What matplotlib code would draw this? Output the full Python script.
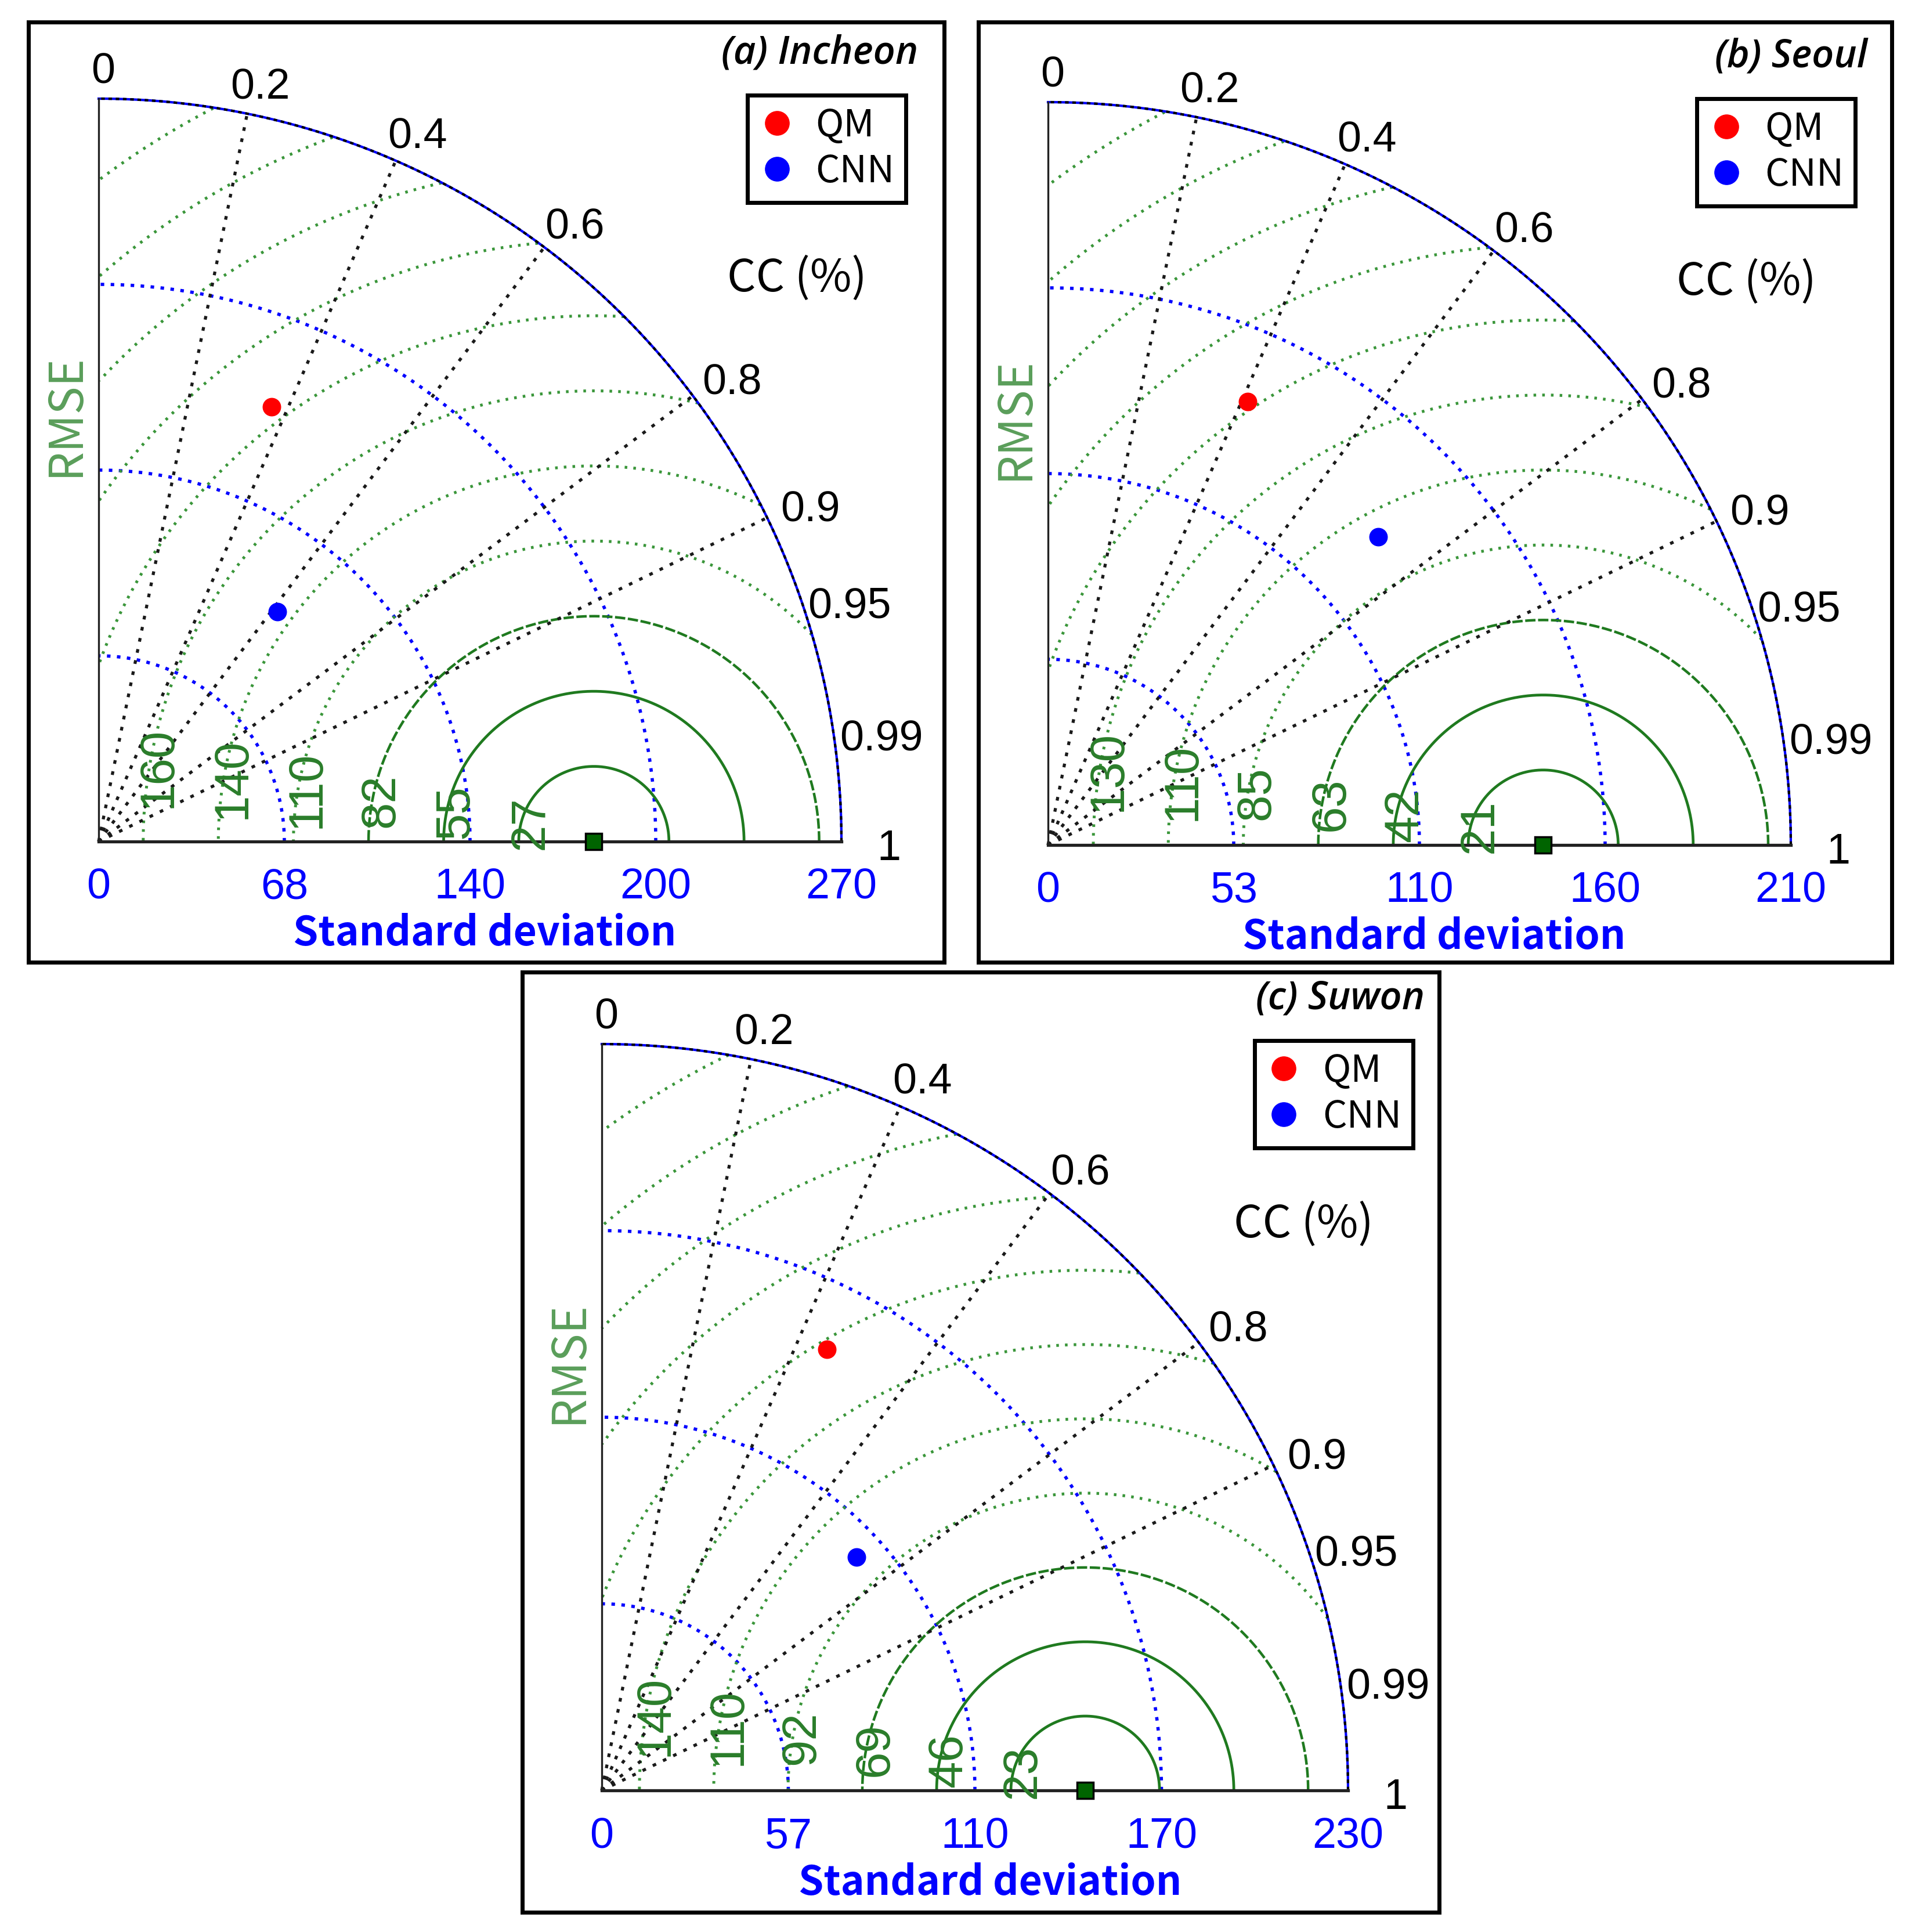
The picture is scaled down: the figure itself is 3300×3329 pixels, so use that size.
import numpy as np
import matplotlib.pyplot as plt

# ---- data ----
titles = ['(a) Incheon', '(b) Seoul', '(c) Suwon']
std_max = [270, 210, 230]
std_ticklabels = [['0', '68', '140', '200', '270'],
                  ['0', '53', '110', '160', '210'],
                  ['0', '57', '110', '170', '230']]
ref_std = [180, 140, 149]
rmse_step = [27.3, 21.2, 22.9]
rmse_labels = [['27', '55', '82', '110', '140', '160'],
               ['21', '42', '63', '85', '110', '130'],
               ['23', '46', '69', '92', '110', '140']]
qm_std = [170.1, 137.5, 152.7]
qm_cc = [0.370, 0.410, 0.455]
cnn_std = [105.8, 127.6, 106.5]
cnn_cc = [0.615, 0.731, 0.737]
cc_lines = [0.2, 0.4, 0.6, 0.8, 0.9]
cc_ticks = [0, 0.2, 0.4, 0.6, 0.8, 0.9, 0.95, 0.99, 1]
cc_ticklabels = ['0', '0.2', '0.4', '0.6', '0.8', '0.9', '0.95', '0.99', '1']

W, H, DPI = 3300, 3329, 100
# panel frame boxes and (origin x, origin y, radius) in pixels
frames = [(49, 38, 1627, 1658), (1686, 38, 3260, 1658), (900, 1675, 2480, 3295)]
origins = [(170, 1450, 1280), (1806, 1456, 1280), (1037, 3085, 1286)]

BLUE = '#0000ff'
GREEN_D = '#1f7a1f'
GREEN_L = '#3a963a'
LABEL_FONT = ['Noto Sans CJK KR', 'DejaVu Sans']
NUM_FONT = ['Liberation Sans', 'DejaVu Sans']
NARROW_FONT = ['Liberation Sans Narrow', 'Liberation Sans', 'DejaVu Sans']

fig = plt.figure(figsize=(W / DPI, H / DPI), dpi=DPI)


def draw_panel(ax, i):
    smax = std_max[i]
    x0, y0, x1, y1 = frames[i]
    ox, oy, rpx = origins[i]
    s = rpx / smax
    ax.set_xlim((x0 - ox) / s, (x1 - ox) / s)
    ax.set_ylim((oy - y1) / s, (oy - y0) / s)
    ax.set_xticks([])
    ax.set_yticks([])
    for sp in ax.spines.values():
        sp.set_linewidth(5)
        sp.set_color('black')

    th = np.linspace(0, np.pi / 2, 500)

    # std arcs
    for f in [0.25, 0.5, 0.75]:
        r = f * smax
        ax.plot(r * np.cos(th), r * np.sin(th), color=BLUE, lw=4.0,
                linestyle=(0, (1.1, 2.0)), zorder=2)
    ax.plot(smax * np.cos(th), smax * np.sin(th), color=BLUE, lw=3.0, zorder=3)
    ax.plot(smax * np.cos(th), smax * np.sin(th), color='black', lw=3.0,
            linestyle=(0, (1.5, 1.5)), zorder=3)

    # rmse arcs centred on the reference
    ref = ref_std[i]
    step = rmse_step[i]
    phi = np.linspace(0, np.pi, 1500)
    k = 1
    while k * step < ref + smax:
        R = k * step
        x = ref + R * np.cos(phi)
        y = R * np.sin(phi)
        bad = (x ** 2 + y ** 2 > smax ** 2) | (x < 0)
        x = np.where(bad, np.nan, x)
        y = np.where(bad, np.nan, y)
        if k <= 2:
            ax.plot(x, y, color=GREEN_D, lw=3.4, zorder=2)
        elif k == 3:
            ax.plot(x, y, color=GREEN_D, lw=3.2, linestyle=(0, (4, 1.0)), zorder=2)
        else:
            ax.plot(x, y, color=GREEN_L, lw=3.6, linestyle=(0, (0.9, 2.1)), zorder=2)
        k += 1

    # rmse labels on the left foot of the first arcs
    for k, lab in enumerate(rmse_labels[i], start=1):
        R = k * step
        h = smax * (0.01 + 0.015 * k)
        xl = ref - np.sqrt(R ** 2 - h ** 2) + 0.012 * smax
        ax.text(xl, h, lab, rotation=90, ha='center', va='center',
                color='#2a7d2a', fontsize=60, family=NARROW_FONT, zorder=4)

    # correlation lines
    for c in cc_lines:
        a = np.arccos(c)
        ax.plot([0, smax * np.cos(a)], [0, smax * np.sin(a)], color='#1a1a1a',
                lw=3.8, linestyle=(0, (1.2, 2.5)), zorder=2)

    # axes lines
    ax.plot([0, smax], [0, 0], color='#222222', lw=3.8, zorder=3)
    ax.plot([0, 0], [0, smax], color='#222222', lw=2.4, zorder=3)

    # correlation labels
    for c, lab in zip(cc_ticks, cc_ticklabels):
        a = np.arccos(c)
        ax.text(1.058 * smax * np.cos(a) + 0.006 * smax,
                1.058 * smax * np.sin(a) - (0.01 + 0.012 * np.sin(a)) * smax, lab,
                ha='center', va='center', fontsize=53, family=NUM_FONT,
                color='black')

    # std tick labels
    for t, lab in zip(np.linspace(0, smax, 5), std_ticklabels[i]):
        ax.text(t, -0.062 * smax, lab, ha='center', va='center', fontsize=53,
                family=NUM_FONT, color=BLUE)

    ax.text(0.52 * smax, -0.124 * smax, 'Standard deviation', ha='center',
            va='center', fontsize=50, family=LABEL_FONT, color=BLUE,
            fontweight='bold')
    ax.text(-0.045 * smax, 0.574 * smax, 'RMSE', rotation=90, ha='center',
            va='center', fontsize=58, family=LABEL_FONT, color='#5a9e5a')
    ax.text(0.94 * smax, 0.758 * smax, 'CC (%)', ha='center', va='center',
            fontsize=56, family=LABEL_FONT, color='black')
    ax.text(1.103 * smax, 1.061 * smax, titles[i], ha='right', va='center',
            fontsize=48, family=['Open Sans', 'DejaVu Sans'], style='italic',
            fontweight='semibold', color='black')

    # reference point
    ax.plot([ref], [0], 's', ms=20, color='#006400', mec='black', mew=2.5,
            zorder=6, clip_on=False)

    # model points
    aq = np.arccos(qm_cc[i])
    ac = np.arccos(cnn_cc[i])
    hq, = ax.plot([qm_std[i] * np.cos(aq)], [qm_std[i] * np.sin(aq)], 'o',
                  color='red', ms=22, zorder=7, label='QM')
    hc, = ax.plot([cnn_std[i] * np.cos(ac)], [cnn_std[i] * np.sin(ac)], 'o',
                  color=BLUE, ms=22, zorder=7, label='CNN')

    leg = ax.legend(handles=[hq, hc], loc='upper right',
                    bbox_to_anchor=(1.087 * smax, 1.005 * smax),
                    bbox_transform=ax.transData, fancybox=False,
                    edgecolor='black', framealpha=1, markerscale=1.35,
                    prop={'family': LABEL_FONT, 'size': 47}, borderpad=0.3,
                    handlelength=0.95, handletextpad=0.55, labelspacing=0.2,
                    borderaxespad=0)
    leg.get_frame().set_linewidth(5)


for i in range(3):
    x0, y0, x1, y1 = frames[i]
    ax = fig.add_axes([x0 / W, 1 - y1 / H, (x1 - x0) / W, (y1 - y0) / H])
    draw_panel(ax, i)

fig.savefig('out.png', dpi=DPI)
